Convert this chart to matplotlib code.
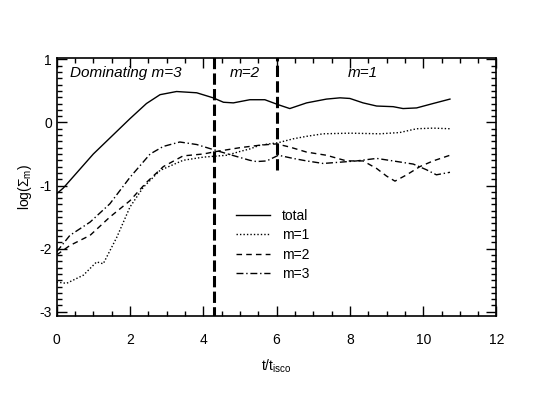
#!/usr/bin/env python3
# Mode amplitudes log(Sigma_m) vs t/t_isco, total and m=1,2,3

import matplotlib
matplotlib.use('Agg')
import matplotlib.pyplot as plt
from matplotlib.ticker import MultipleLocator

plt.rcParams['font.family'] = ['Liberation Sans', 'DejaVu Sans']
plt.rcParams['mathtext.fontset'] = 'custom'
plt.rcParams['mathtext.rm'] = 'Liberation Sans'
plt.rcParams['mathtext.it'] = 'Liberation Sans:italic'
plt.rcParams['axes.unicode_minus'] = False

# values
t_total = [0.0, 0.18, 1.0, 2.0, 2.45, 2.82, 3.27, 3.82, 4.27, 4.55, 4.82, 5.27, 5.68,
           6.05, 6.36, 6.82, 7.36, 7.73, 8.0, 8.36, 8.73, 9.18, 9.45, 9.82, 10.27, 10.73]
y_total = [-1.13, -1.04, -0.50, 0.06, 0.30, 0.44, 0.49, 0.47, 0.39, 0.32, 0.31, 0.36, 0.36,
           0.28, 0.22, 0.31, 0.37, 0.39, 0.38, 0.31, 0.26, 0.25, 0.22, 0.23, 0.30, 0.37]

t_m1 = [0.0, 0.27, 0.73, 1.09, 1.27, 1.64, 2.0, 2.36, 2.82, 3.45, 4.0, 4.64, 5.0, 5.27,
        5.55, 6.05, 6.45, 6.82, 7.27, 8.0, 8.82, 9.36, 9.82, 10.27, 10.73]
y_m1 = [-2.53, -2.55, -2.42, -2.21, -2.24, -1.82, -1.34, -1.03, -0.76, -0.60, -0.55, -0.52,
        -0.46, -0.42, -0.36, -0.32, -0.26, -0.22, -0.18, -0.17, -0.18, -0.16, -0.10, -0.09, -0.10]

t_m2 = [0.0, 0.36, 0.91, 1.45, 2.0, 2.45, 2.91, 3.45, 4.0, 4.36, 5.0, 5.55, 6.0, 6.36,
        6.82, 7.36, 7.91, 8.36, 8.73, 9.0, 9.23, 9.55, 9.91, 10.27, 10.73]
y_m2 = [-2.10, -1.95, -1.79, -1.50, -1.24, -0.95, -0.70, -0.53, -0.50, -0.46, -0.40, -0.36,
        -0.34, -0.39, -0.47, -0.52, -0.61, -0.61, -0.73, -0.85, -0.93, -0.83, -0.70, -0.61, -0.52]

t_m3 = [0.0, 0.36, 0.91, 1.45, 2.0, 2.55, 2.91, 3.36, 3.82, 4.27, 4.73, 5.27, 5.45, 5.73,
        6.05, 6.45, 6.82, 7.27, 7.73, 8.18, 8.73, 9.18, 9.73, 10.09, 10.36, 10.73]
y_m3 = [-2.05, -1.79, -1.58, -1.29, -0.87, -0.50, -0.38, -0.31, -0.35, -0.43, -0.51, -0.60,
        -0.62, -0.61, -0.52, -0.57, -0.61, -0.65, -0.63, -0.61, -0.57, -0.61, -0.66, -0.75,
        -0.83, -0.79]

# phase boundaries
t_split = [4.3, 6.0]
y_split_low = [-3.1, -0.75]

fig = plt.figure(figsize=(5.45, 4.09), dpi=100)
ax = fig.add_axes([0.104, 0.227, 0.807, 0.631])

ax.plot(t_total, y_total, color='black', lw=1.0, ls='-', label='total')
ax.plot(t_m1, y_m1, color='black', lw=1.0, ls=(0, (1, 1.5)), label='m=1')
ax.plot(t_m2, y_m2, color='black', lw=1.0, ls=(0, (4, 3)), label='m=2')
ax.plot(t_m3, y_m3, color='black', lw=1.0, ls=(0, (5, 2, 1, 2)), label='m=3')

for ts, yl in zip(t_split, y_split_low):
    ax.plot([ts, ts], [yl, 1.1], color='black', lw=2.2, ls=(0, (3.7, 1.4)))

ax.text(0.35, 0.78, 'Dominating m=3', fontsize=11, style='italic', va='center')
ax.text(4.72, 0.78, 'm=2', fontsize=11, style='italic', va='center')
ax.text(7.95, 0.78, 'm=1', fontsize=11, style='italic', va='center')

ax.legend(loc='upper left', bbox_to_anchor=(0.394, 0.438), frameon=False, fontsize=10,
          handlelength=2.5, handletextpad=0.85, labelspacing=0.4, borderaxespad=0)

ax.set_xlim(0, 12)
ax.set_ylim(-3.07, 1.02)
ax.xaxis.set_major_locator(MultipleLocator(2))
ax.xaxis.set_minor_locator(MultipleLocator(0.5))
ax.yaxis.set_major_locator(MultipleLocator(1))
ax.yaxis.set_minor_locator(MultipleLocator(0.1))
ax.tick_params(which='both', direction='in', top=True, right=True, labelsize=10)
ax.tick_params(which='major', length=7, width=1)
ax.tick_params(which='minor', length=3.5, width=1)
ax.tick_params(axis='x', which='major', pad=12)
for s in ax.spines.values():
    s.set_linewidth(1.2)

ax.set_xlabel(r't/t$_{\rm isco}$', fontsize=10, labelpad=7.5)
ax.set_ylabel(r'log($\Sigma_{\rm m}$)', fontsize=10)

fig.savefig('out.png', dpi=100)
